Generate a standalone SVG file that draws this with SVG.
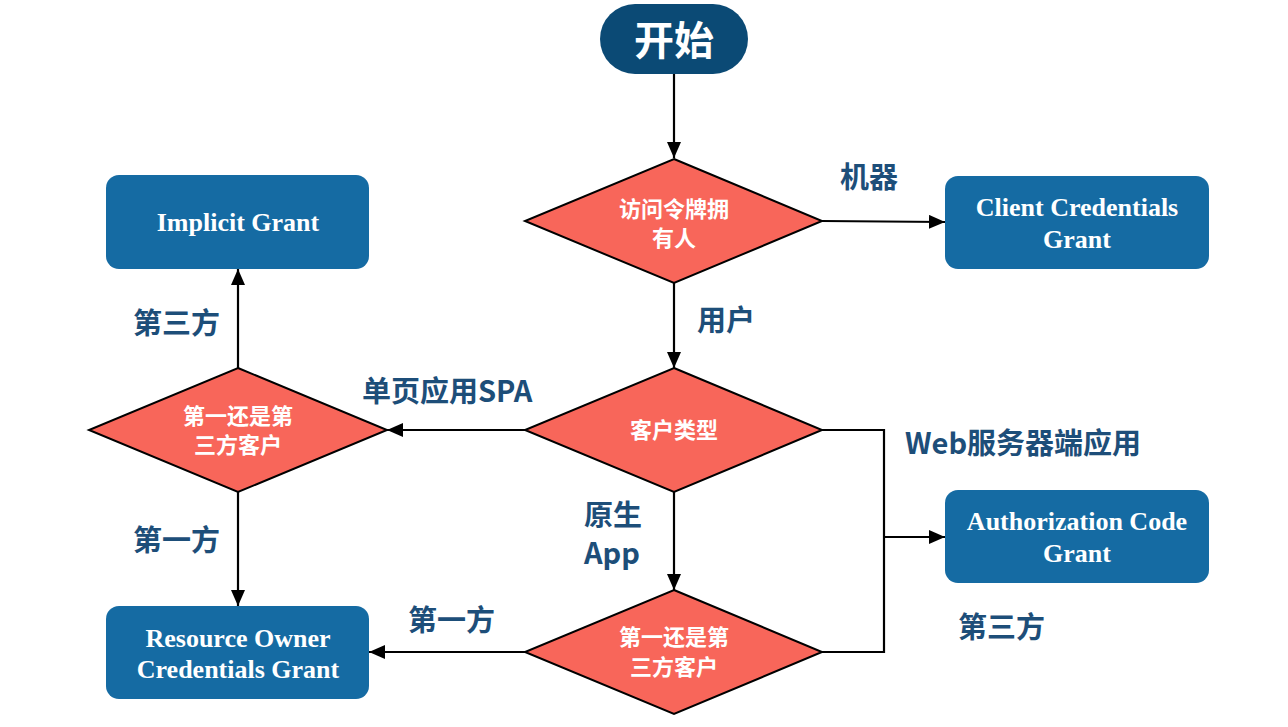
<svg xmlns="http://www.w3.org/2000/svg" width="1288" height="727" viewBox="0 0 1288 727">
<defs>
<marker id="arr" viewBox="0 0 16 14" refX="16" refY="7" markerWidth="16" markerHeight="14" markerUnits="userSpaceOnUse" orient="auto">
<path d="M0,0 L16,7 L0,14 z" fill="#000"/>
</marker>
<style>
.box{fill:#156ba3;}
.dia{fill:#f8665a;stroke:#000;stroke-width:2;}
.bt{font-family:"Liberation Serif","Times New Roman",serif;font-weight:bold;font-size:26px;fill:#fff;text-anchor:middle;}
.dt{font-family:"Noto Sans CJK SC","Noto Sans",sans-serif;font-weight:bold;font-size:22px;fill:#fff;text-anchor:middle;}
.lb{font-family:"Noto Sans CJK SC","Noto Sans",sans-serif;font-weight:bold;font-size:29px;fill:#1d4e79;}
.ln{fill:none;stroke:#000;stroke-width:2.2;}
</style>
</defs>
<rect width="1288" height="727" fill="#fff"/>
<g id="connectors">
<line class="ln" x1="674" y1="73" x2="674" y2="158" marker-end="url(#arr)"/>
<line class="ln" x1="822" y1="221" x2="945" y2="222" marker-end="url(#arr)"/>
<line class="ln" x1="674" y1="283" x2="674" y2="368" marker-end="url(#arr)"/>
<line class="ln" x1="525" y1="430" x2="387" y2="430" marker-end="url(#arr)"/>
<line class="ln" x1="238" y1="368" x2="238" y2="269" marker-end="url(#arr)"/>
<line class="ln" x1="238" y1="492" x2="238" y2="606" marker-end="url(#arr)"/>
<line class="ln" x1="674" y1="492" x2="674" y2="590" marker-end="url(#arr)"/>
<line class="ln" x1="525" y1="652" x2="369" y2="652" marker-end="url(#arr)"/>
<polyline class="ln" points="822,430 884,430 884,652 822,652"/>
<line class="ln" x1="884" y1="537" x2="945" y2="537" marker-end="url(#arr)"/>
</g>
<g id="labels">
<text class="lb" x="840" y="188">机器</text>
<text class="lb" x="697" y="331">用户</text>
<text class="lb" x="133" y="334">第三方</text>
<text class="lb" x="362" y="402">单页应用SPA</text>
<text class="lb" x="905" y="454">Web服务器端应用</text>
<text class="lb" x="584" y="526">原生</text>
<text class="lb" x="584" y="564">App</text>
<text class="lb" x="133" y="551">第一方</text>
<text class="lb" x="408" y="631">第一方</text>
<text class="lb" x="958" y="638">第三方</text>
</g>
<g id="start">
<rect x="600" y="4" width="148" height="70" rx="35" fill="#0b4a75"/>
<text x="674" y="55" font-family="Noto Sans CJK SC, sans-serif" font-weight="bold" font-size="40" fill="#fff" text-anchor="middle">开始</text>
</g>
<g id="d-owner">
<polygon class="dia" points="674,159 822,221 674,283 525,221"/>
<text class="dt" x="674" y="217">访问令牌拥</text>
<text class="dt" x="674" y="246">有人</text>
</g>
<g id="client-cred">
<rect class="box" x="945" y="176" width="264" height="93" rx="13"/>
<text class="bt" x="1077" y="216">Client Credentials</text>
<text class="bt" x="1077" y="248">Grant</text>
</g>
<g id="implicit">
<rect class="box" x="106" y="175" width="263" height="94" rx="13"/>
<text class="bt" x="238" y="231">Implicit Grant</text>
</g>
<g id="d-type">
<polygon class="dia" points="674,368 822,430 674,492 525,430"/>
<text class="dt" x="674" y="438">客户类型</text>
</g>
<g id="d-party-left">
<polygon class="dia" points="238,368 387,430 238,492 89,430"/>
<text class="dt" x="238" y="424">第一还是第</text>
<text class="dt" x="238" y="453">三方客户</text>
</g>
<g id="auth-code">
<rect class="box" x="945" y="490" width="264" height="93" rx="13"/>
<text class="bt" x="1077" y="530">Authorization Code</text>
<text class="bt" x="1077" y="562">Grant</text>
</g>
<g id="resource-owner">
<rect class="box" x="106" y="606" width="263" height="93" rx="13"/>
<text class="bt" x="238" y="647">Resource Owner</text>
<text class="bt" x="238" y="678">Credentials Grant</text>
</g>
<g id="d-party-bottom">
<polygon class="dia" points="674,590 822,652 674,714 525,652"/>
<text class="dt" x="674" y="645">第一还是第</text>
<text class="dt" x="674" y="675">三方客户</text>
</g>
</svg>
